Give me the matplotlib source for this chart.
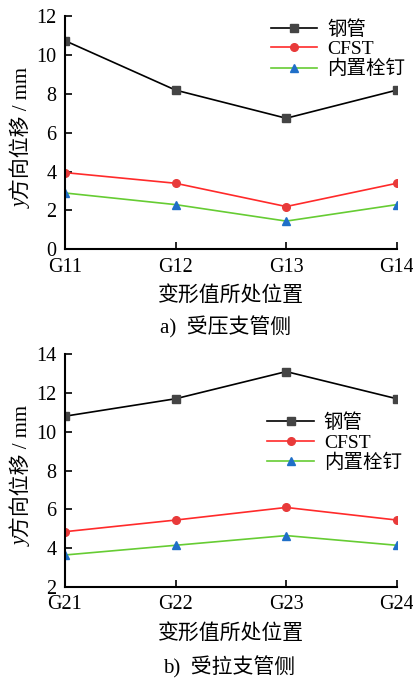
import numpy as np
import matplotlib
matplotlib.use('Agg')
import matplotlib.pyplot as plt

plt.rcParams['font.family'] = ['Liberation Serif', 'Noto Sans CJK SC']

# dados
cat_a = ['G11', 'G12', 'G13', 'G14']
gang_a = [10.75, 8.2, 6.75, 8.2]
cfst_a = [3.95, 3.4, 2.2, 3.4]
shuan_a = [2.9, 2.3, 1.45, 2.3]

cat_b = ['G21', 'G22', 'G23', 'G24']
gang_b = [10.8, 11.7, 13.1, 11.7]
cfst_b = [4.85, 5.45, 6.1, 5.45]
shuan_b = [3.65, 4.15, 4.65, 4.15]

nomes = ['钢管', 'CFST', '内置栓钉']

fig = plt.figure(figsize=(4.13, 6.81), dpi=100)
ax1 = fig.add_axes([0.157, 0.634, 0.804, 0.342])
ax2 = fig.add_axes([0.157, 0.138, 0.804, 0.342])


def desenha(ax, cat, g, c, s, ylim, yt, legpos):
    x = np.arange(len(cat))
    ax.plot(x, g, color='black', lw=1.2, marker='s', ms=5.5, mfc='#444444', mec='#444444', label=nomes[0])
    ax.plot(x, c, color='#ff2a2a', lw=1.2, marker='o', ms=5.5, mfc='#e83a3a', mec='#e83a3a', label=nomes[1])
    ax.plot(x, s, color='#66cc33', lw=1.2, marker='^', ms=6, mfc='#1f6fc8', mec='#1f6fc8', label=nomes[2])
    ax.set_xlim(0, 3)
    ax.set_ylim(*ylim)
    ax.set_yticks(yt)
    ax.set_xticks(x)
    ax.set_xticklabels(cat)
    ax.spines['top'].set_visible(False)
    ax.spines['right'].set_visible(False)
    ax.spines['left'].set_linewidth(1.5)
    ax.spines['bottom'].set_linewidth(1.5)
    ax.tick_params(direction='in', labelsize=14.5, length=5, width=1.2, pad=6)
    # o "y" em itálico fica num texto separado, logo abaixo do rótulo
    rot = ax.set_ylabel('方向位移 / mm', fontsize=15, labelpad=3)
    rot.set_position((0, 0.5))
    ax.annotate('y', xy=(0.5, 0.0), xycoords=rot, ha='center', va='top',
                rotation=90, fontsize=15, family='Liberation Serif', style='italic')
    ax.set_xlabel('变形值所处位置', fontsize=15, labelpad=7)
    ax.legend(loc='upper left', bbox_to_anchor=legpos, frameon=False, fontsize=14,
              handlelength=2.4, labelspacing=0.1, borderaxespad=0.0, borderpad=0.0,
              handletextpad=0.5)


desenha(ax1, cat_a, gang_a, cfst_a, shuan_a, (0, 12), [0, 2, 4, 6, 8, 10, 12], (0.62, 0.985))
desenha(ax2, cat_b, gang_b, cfst_b, shuan_b, (2, 14), [2, 4, 6, 8, 10, 12, 14], (0.61, 0.745))

fig.text(0.545, 0.52, 'a)  受压支管侧', ha='center', va='center', fontsize=15)
fig.text(0.555, 0.02, 'b)  受拉支管侧', ha='center', va='center', fontsize=15)

plt.savefig('out.png', dpi=100)
